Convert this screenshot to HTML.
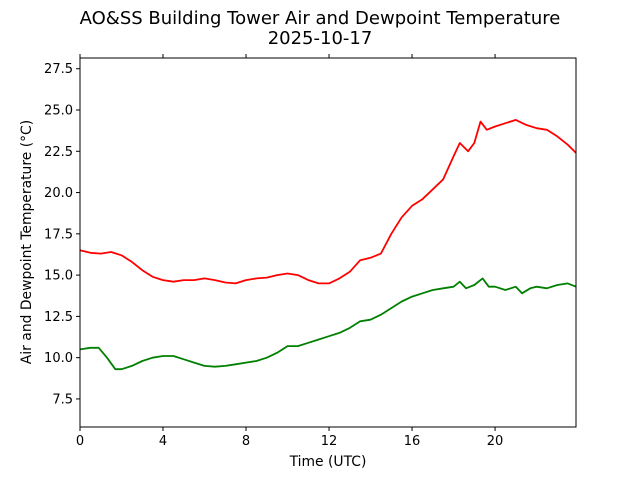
<!DOCTYPE html>
<html><head><meta charset="utf-8"><style>
body{margin:0;background:#fff;}
svg{display:block;font-family:"DejaVu Sans","Liberation Sans",sans-serif;}
</style></head><body>
<svg id="chart" width="640" height="480" viewBox="0 0 640 480" xmlns="http://www.w3.org/2000/svg">
<rect width="640" height="480" fill="#fff"/>
<text x="320" y="24" text-anchor="middle" font-size="18">AO&amp;SS Building Tower Air and Dewpoint Temperature</text>
<text x="320" y="44" text-anchor="middle" font-size="18">2025-10-17</text>
<g id="axes"></g>
<g id="series"></g>
<rect x="80" y="58" width="496" height="369" fill="none" stroke="#000" stroke-width="1"/>
<text x="328" y="466" text-anchor="middle" font-size="13.9">Time (UTC)</text>
<text transform="translate(31,242) rotate(-90)" text-anchor="middle" font-size="13.9">Air and Dewpoint Temperature (°C)</text>
</svg>
<script>
const xTicks=[0,4,8,12,16,20];
const yTicks=[7.5,10.0,12.5,15.0,17.5,20.0,22.5,25.0,27.5];
const airHours=[0,0.5,1,1.5,2,2.5,3,3.5,4,4.5,5,5.5,6,6.5,7,7.5,8,8.5,9,9.5,10,10.5,11,11.5,12,12.5,13,13.5,14,14.5,15,15.5,16,16.5,17,17.5,18,18.3,18.7,19,19.3,19.6,20,20.5,21,21.5,22,22.5,23,23.5,23.9];
const airTemp=[16.5,16.35,16.3,16.4,16.2,15.8,15.3,14.9,14.7,14.6,14.7,14.7,14.8,14.7,14.55,14.5,14.7,14.8,14.85,15.0,15.1,15.0,14.7,14.5,14.5,14.8,15.2,15.9,16.05,16.3,17.5,18.5,19.2,19.6,20.2,20.8,22.2,23.0,22.5,23.0,24.3,23.8,24.0,24.2,24.4,24.1,23.9,23.8,23.4,22.9,22.4];
const dewHours=[0,0.5,0.9,1.3,1.7,2,2.5,3,3.5,4,4.5,5,5.5,6,6.5,7,7.5,8,8.5,9,9.5,10,10.5,11,11.5,12,12.5,13,13.5,14,14.5,15,15.5,16,16.5,17,17.5,18,18.3,18.6,19,19.4,19.7,20,20.5,21,21.3,21.7,22,22.5,23,23.5,23.9];
const dewTemp=[10.5,10.6,10.6,10.0,9.3,9.3,9.5,9.8,10.0,10.1,10.1,9.9,9.7,9.5,9.45,9.5,9.6,9.7,9.8,10.0,10.3,10.7,10.7,10.9,11.1,11.3,11.5,11.8,12.2,12.3,12.6,13.0,13.4,13.7,13.9,14.1,14.2,14.3,14.6,14.2,14.4,14.8,14.3,14.3,14.1,14.3,13.9,14.2,14.3,14.2,14.4,14.5,14.3];
const X0=80,X1=576,Y0=427,Y1=58,xMin=0,xMax=23.9,yMin=5.8,yMax=28.15;
const xs=v=>X0+(v-xMin)/(xMax-xMin)*(X1-X0);
const ys=v=>Y0-(v-yMin)/(yMax-yMin)*(Y0-Y1);
const NS="http://www.w3.org/2000/svg";
const axes=document.getElementById('axes'),ser=document.getElementById('series');
function mk(t,a,p){const e=document.createElementNS(NS,t);for(const k in a)e.setAttribute(k,a[k]);p.appendChild(e);return e;}
xTicks.forEach(t=>{const x=xs(t);
 const l=mk('line',{x1:x,x2:x,y1:Y0,y2:Y0+4,stroke:'#000'},axes);
 
 
 const l2=mk('line',{x1:x,x2:x,y1:Y1,y2:Y1-4,stroke:'#000'},axes);
 
 
 const tx=mk('text',{x:x,y:Y0+18,'text-anchor':'middle','font-size':13},axes);tx.textContent=t;
 
 
});
yTicks.forEach(t=>{const y=ys(t);
 const l=mk('line',{x1:X0-4,x2:X0,y1:y,y2:y,stroke:'#000'},axes);
 
 
 const tx=mk('text',{x:X0-7,y:y+4.5,'text-anchor':'end','font-size':13},axes);tx.textContent=t.toFixed(1);
 
 
});
function line(h,v,c,name){
 const d=h.map((x,i)=>(i?'L':'M')+xs(x).toFixed(1)+','+ys(v[i]).toFixed(1)).join('');
 const p=mk('path',{d:d,fill:'none',stroke:c,'stroke-width':1.8,'stroke-linejoin':'round'},ser);
 
 
}
line(airHours,airTemp,'#ff0000','air-temperature-line');
line(dewHours,dewTemp,'#008000','dewpoint-temperature-line');
</script>
</body></html>
